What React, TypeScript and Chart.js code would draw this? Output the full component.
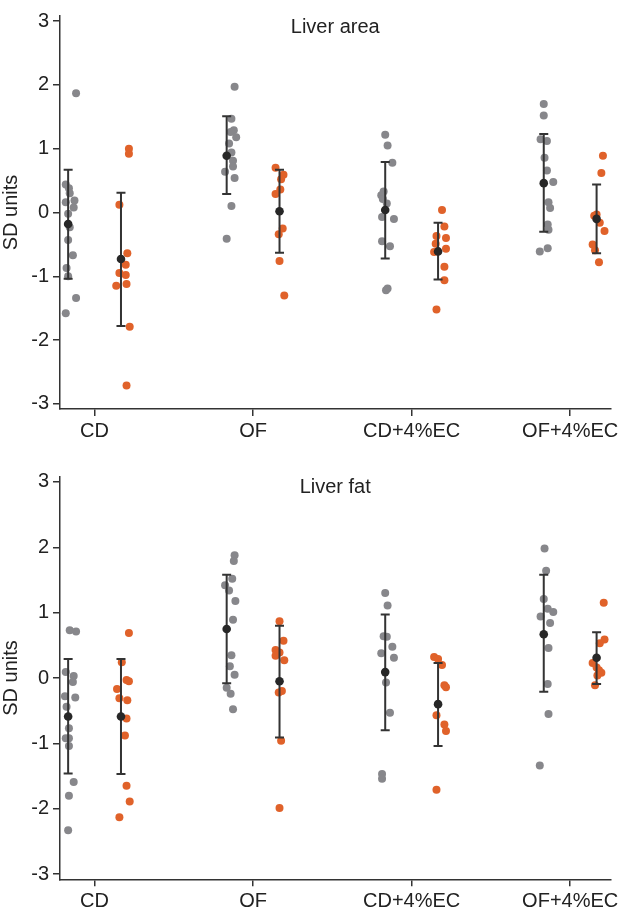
import React, { useRef, useEffect } from "react";
import { Chart, registerables } from "chart.js";

Chart.register(...registerables);

const categories = ["CD", "OF", "CD+4%EC", "OF+4%EC"];
const yTicks = [-3, -2, -1, 0, 1, 2, 3];

// each point is [jitter (category units), SD value]
const areaGrey: number[][][] = [
  [[0.05, 1.87], [-0.015, 0.44], [0.005, 0.38], [0.01, 0.3], [0.04, 0.19], [-0.015, 0.16], [0.035, 0.08], [0, -0.02], [0.01, -0.23], [0, -0.43], [0.03, -0.67], [-0.01, -0.87], [0, -1.0], [0.05, -1.34], [-0.015, -1.58]],
  [[0.05, 1.97], [0.03, 1.47], [0.045, 1.29], [0.025, 1.26], [0.06, 1.18], [0.015, 1.08], [0.03, 0.94], [0.04, 0.81], [0.04, 0.72], [-0.01, 0.64], [0.05, 0.54], [0.03, 0.1], [0, -0.41]],
  [[0, 1.22], [0.015, 1.05], [0.045, 0.78], [-0.01, 0.33], [-0.025, 0.27], [-0.015, 0.21], [0.01, 0.14], [-0.02, -0.07], [0.055, -0.1], [-0.02, -0.45], [0.03, -0.53], [0.015, -1.19], [0.005, -1.22]],
  [[0, 1.7], [0, 1.52], [-0.02, 1.15], [0.02, 1.12], [0.005, 0.86], [0.02, 0.66], [0.06, 0.48], [0.03, 0.16], [0.04, 0.07], [0.025, -0.19], [0.03, -0.27], [0.025, -0.56], [-0.025, -0.61]],
];
const areaOrange: number[][][] = [
  [[0.05, 1.0], [0.05, 0.92], [-0.01, 0.12], [0.04, -0.64], [0.03, -0.82], [-0.01, -0.95], [0.03, -0.98], [-0.03, -1.15], [0.035, -1.12], [0.055, -1.79], [0.035, -2.71]],
  [[-0.025, 0.7], [0.025, 0.59], [0.01, 0.52], [0.005, 0.36], [-0.025, 0.29], [0.02, -0.25], [-0.005, -0.34], [0, -0.76], [0.03, -1.3]],
  [[0.025, 0.04], [0.04, -0.22], [-0.01, -0.37], [0.05, -0.4], [-0.015, -0.49], [0.05, -0.57], [-0.025, -0.62], [0.04, -0.85], [0.04, -1.06], [-0.01, -1.52]],
  [[0.04, 0.89], [0.03, 0.62], [0, -0.03], [-0.015, -0.05], [0.02, -0.16], [0.05, -0.29], [-0.025, -0.5], [-0.01, -0.59], [0.015, -0.78]],
];
const areaGreyMean = [-0.18, 0.89, 0.04, 0.46];
const areaGreyLow = [-1.04, 0.29, -0.72, -0.3];
const areaGreyHigh = [0.67, 1.51, 0.79, 1.23];
const areaOrangeMean = [-0.73, 0.02, -0.61, -0.1];
const areaOrangeLow = [-1.78, -0.63, -1.05, -0.64];
const areaOrangeHigh = [0.31, 0.67, -0.16, 0.44];

const fatGrey: number[][][] = [
  [[0.01, 0.73], [0.05, 0.71], [-0.015, 0.09], [0.035, 0.03], [0.03, -0.06], [-0.02, -0.28], [0.045, -0.3], [-0.01, -0.44], [0.005, -0.77], [-0.015, -0.92], [0.005, -0.92], [0.005, -1.04], [0.035, -1.59], [0.005, -1.8], [0, -2.33]],
  [[0.05, 1.88], [0.045, 1.79], [0.035, 1.52], [-0.01, 1.42], [0.015, 1.34], [0.055, 1.18], [0.04, 0.89], [0.03, 0.35], [0.02, 0.18], [0.05, 0.05], [0, -0.15], [0.025, -0.24], [0.04, -0.48]],
  [[0, 1.3], [0.015, 1.11], [-0.01, 0.64], [0.01, 0.63], [0.045, 0.48], [-0.025, 0.38], [0.055, 0.31], [0.005, -0.07], [0.03, -0.53], [-0.02, -1.47], [-0.02, -1.54]],
  [[0.005, 1.98], [0.015, 1.64], [0, 1.21], [0.025, 1.06], [0.06, 1.01], [-0.02, 0.94], [0.04, 0.84], [0.03, 0.46], [0.025, -0.09], [0.03, -0.55], [-0.025, -1.34]],
];
const fatOrange: number[][][] = [
  [[0.05, 0.69], [0.005, 0.24], [0.035, -0.03], [0.05, -0.05], [-0.025, -0.17], [-0.01, -0.31], [0.04, -0.34], [0.035, -0.62], [0.025, -0.88], [0.035, -1.65], [0.055, -1.89], [-0.01, -2.13]],
  [[0, 0.87], [0.025, 0.57], [-0.025, 0.43], [0, 0.39], [-0.025, 0.34], [0.03, 0.27], [0.015, -0.2], [-0.005, -0.22], [0.01, -0.96], [0, -1.99]],
  [[-0.025, 0.32], [0, 0.29], [0.025, 0.2], [0.04, -0.11], [0.05, -0.14], [-0.01, -0.57], [0.04, -0.71], [0.05, -0.81], [-0.01, -1.71]],
  [[0.045, 1.15], [0.05, 0.59], [0.02, 0.53], [-0.025, 0.23], [0, 0.16], [0.015, 0.12], [0.03, 0.08], [0.005, 0.04], [-0.01, -0.11]],
];
const fatGreyMean = [-0.59, 0.75, 0.09, 0.67];
const fatGreyLow = [-1.46, -0.08, -0.8, -0.21];
const fatGreyHigh = [0.29, 1.58, 0.97, 1.58];
const fatOrangeMean = [-0.59, -0.05, -0.4, 0.31];
const fatOrangeLow = [-1.47, -0.91, -1.04, -0.09];
const fatOrangeHigh = [0.29, 0.8, 0.23, 0.7];

const GREY = "#87878b";
const ORANGE = "#e0622a";
const DARK = "#272727";
const AXIS = "#333333";
const FONT = "'Liberation Sans', Arial, sans-serif";
const SHIFT = 1 / 6;

const errorBars = {
  id: "errorBars",
  afterDatasetDraw(chart: any, args: any, opts: any) {
    if (args.index !== 1) return;
    const { ctx, scales } = chart;
    ctx.save();
    ctx.strokeStyle = AXIS;
    ctx.lineWidth = 2;
    (opts.bars || []).forEach((b: any) => {
      const x = scales.x.getPixelForValue(b.x);
      const y1 = scales.y.getPixelForValue(b.lo);
      const y2 = scales.y.getPixelForValue(b.hi);
      ctx.beginPath();
      ctx.moveTo(x, y1);
      ctx.lineTo(x, y2);
      ctx.moveTo(x - 4.5, y1);
      ctx.lineTo(x + 4.5, y1);
      ctx.moveTo(x - 4.5, y2);
      ctx.lineTo(x + 4.5, y2);
      ctx.stroke();
    });
    ctx.restore();
  },
  afterDraw(chart: any, _args: any, opts: any) {
    const { ctx, chartArea } = chart;
    ctx.save();
    ctx.fillStyle = "#222";
    ctx.font = `20px ${FONT}`;
    ctx.textAlign = "center";
    ctx.textBaseline = "middle";
    ctx.fillText(opts.title, (chartArea.left + chartArea.right) / 2, chartArea.top + 11);
    ctx.restore();
  },
};

type PanelProps = {
  title: string;
  grey: number[][][];
  orange: number[][][];
  greyMean: number[];
  greyLow: number[];
  greyHigh: number[];
  orangeMean: number[];
  orangeLow: number[];
  orangeHigh: number[];
  height: number;
  padTop: number;
  xAxisHeight: number;
};

const Panel = (p: PanelProps) => {
  const canvas = useRef<HTMLCanvasElement>(null);

  useEffect(() => {
    const pts = (groups: number[][][], shift: number) =>
      groups.flatMap((g, i) => g.map(([dx, v]) => ({ x: i + 1 + shift + dx, y: v })));
    const means = [
      ...p.greyMean.map((v, i) => ({ x: i + 1 - SHIFT, y: v })),
      ...p.orangeMean.map((v, i) => ({ x: i + 1 + SHIFT, y: v })),
    ];
    const bars = [
      ...p.greyMean.map((_, i) => ({ x: i + 1 - SHIFT, lo: p.greyLow[i], hi: p.greyHigh[i] })),
      ...p.orangeMean.map((_, i) => ({ x: i + 1 + SHIFT, lo: p.orangeLow[i], hi: p.orangeHigh[i] })),
    ];

    const chart = new Chart(canvas.current!, {
      type: "scatter",
      data: {
        datasets: [
          { data: pts(p.grey, -SHIFT), backgroundColor: GREY, pointRadius: 4, borderWidth: 0, order: 2 },
          { data: pts(p.orange, SHIFT), backgroundColor: ORANGE, pointRadius: 4, borderWidth: 0, order: 1 },
          { data: means, backgroundColor: DARK, pointRadius: 4.3, borderWidth: 0, order: 0 },
        ],
      },
      options: {
        animation: false,
        responsive: true,
        maintainAspectRatio: false,
        layout: { padding: { top: p.padTop, right: 10.3, left: 0, bottom: 0 } },
        scales: {
          x: {
            type: "linear",
            min: 0.782,
            max: 4.254,
            afterBuildTicks: (s: any) => {
              s.ticks = categories.map((_, i) => ({ value: i + 1 }));
            },
            afterFit: (s: any) => {
              s.height = p.xAxisHeight;
            },
            border: { display: true, color: AXIS, width: 1.5 },
            grid: { drawOnChartArea: false, drawTicks: true, tickLength: 7, color: AXIS, lineWidth: 1.5 },
            ticks: {
              callback: (v: any) => categories[Math.round(v) - 1],
              font: { family: FONT, size: 20 },
              color: "#222",
              padding: 3,
              maxRotation: 0,
              autoSkip: false,
            },
          },
          y: {
            type: "linear",
            min: -3.08,
            max: 3.08,
            afterBuildTicks: (s: any) => {
              s.ticks = yTicks.map((v) => ({ value: v }));
            },
            afterFit: (s: any) => {
              s.width = 60;
            },
            border: { display: true, color: AXIS, width: 1.5 },
            grid: { drawOnChartArea: false, drawTicks: true, tickLength: 7, color: AXIS, lineWidth: 1.5 },
            ticks: {
              font: { family: FONT, size: 20 },
              color: "#222",
              padding: 4,
            },
            title: {
              display: true,
              text: "SD units",
              font: { family: FONT, size: 20, lineHeight: 1 },
              color: "#222",
              padding: { top: 1, bottom: 0 },
            },
          },
        },
        plugins: {
          legend: { display: false },
          tooltip: { enabled: false },
          errorBars: { bars, title: p.title },
        } as any,
      },
      plugins: [errorBars],
    });
    return () => chart.destroy();
  }, []);

  return (
    <div style={{ position: "relative", width: 622, height: p.height }}>
      <canvas ref={canvas}></canvas>
    </div>
  );
};

export default function App() {
  return (
    <div style={{ position: "absolute", left: 0, top: 0, width: 622, height: 911, background: "#fff" }}>
      <Panel
        title="Liver area"
        grey={areaGrey}
        orange={areaOrange}
        greyMean={areaGreyMean}
        greyLow={areaGreyLow}
        greyHigh={areaGreyHigh}
        orangeMean={areaOrangeMean}
        orangeLow={areaOrangeLow}
        orangeHigh={areaOrangeHigh}
        height={455}
        padTop={7}
        xAxisHeight={46}
      />
      <Panel
        title="Liver fat"
        grey={fatGrey}
        orange={fatOrange}
        greyMean={fatGreyMean}
        greyLow={fatGreyLow}
        greyHigh={fatGreyHigh}
        orangeMean={fatOrangeMean}
        orangeLow={fatOrangeLow}
        orangeHigh={fatOrangeHigh}
        height={456}
        padTop={21.7}
        xAxisHeight={31.7}
      />
    </div>
  );
}
